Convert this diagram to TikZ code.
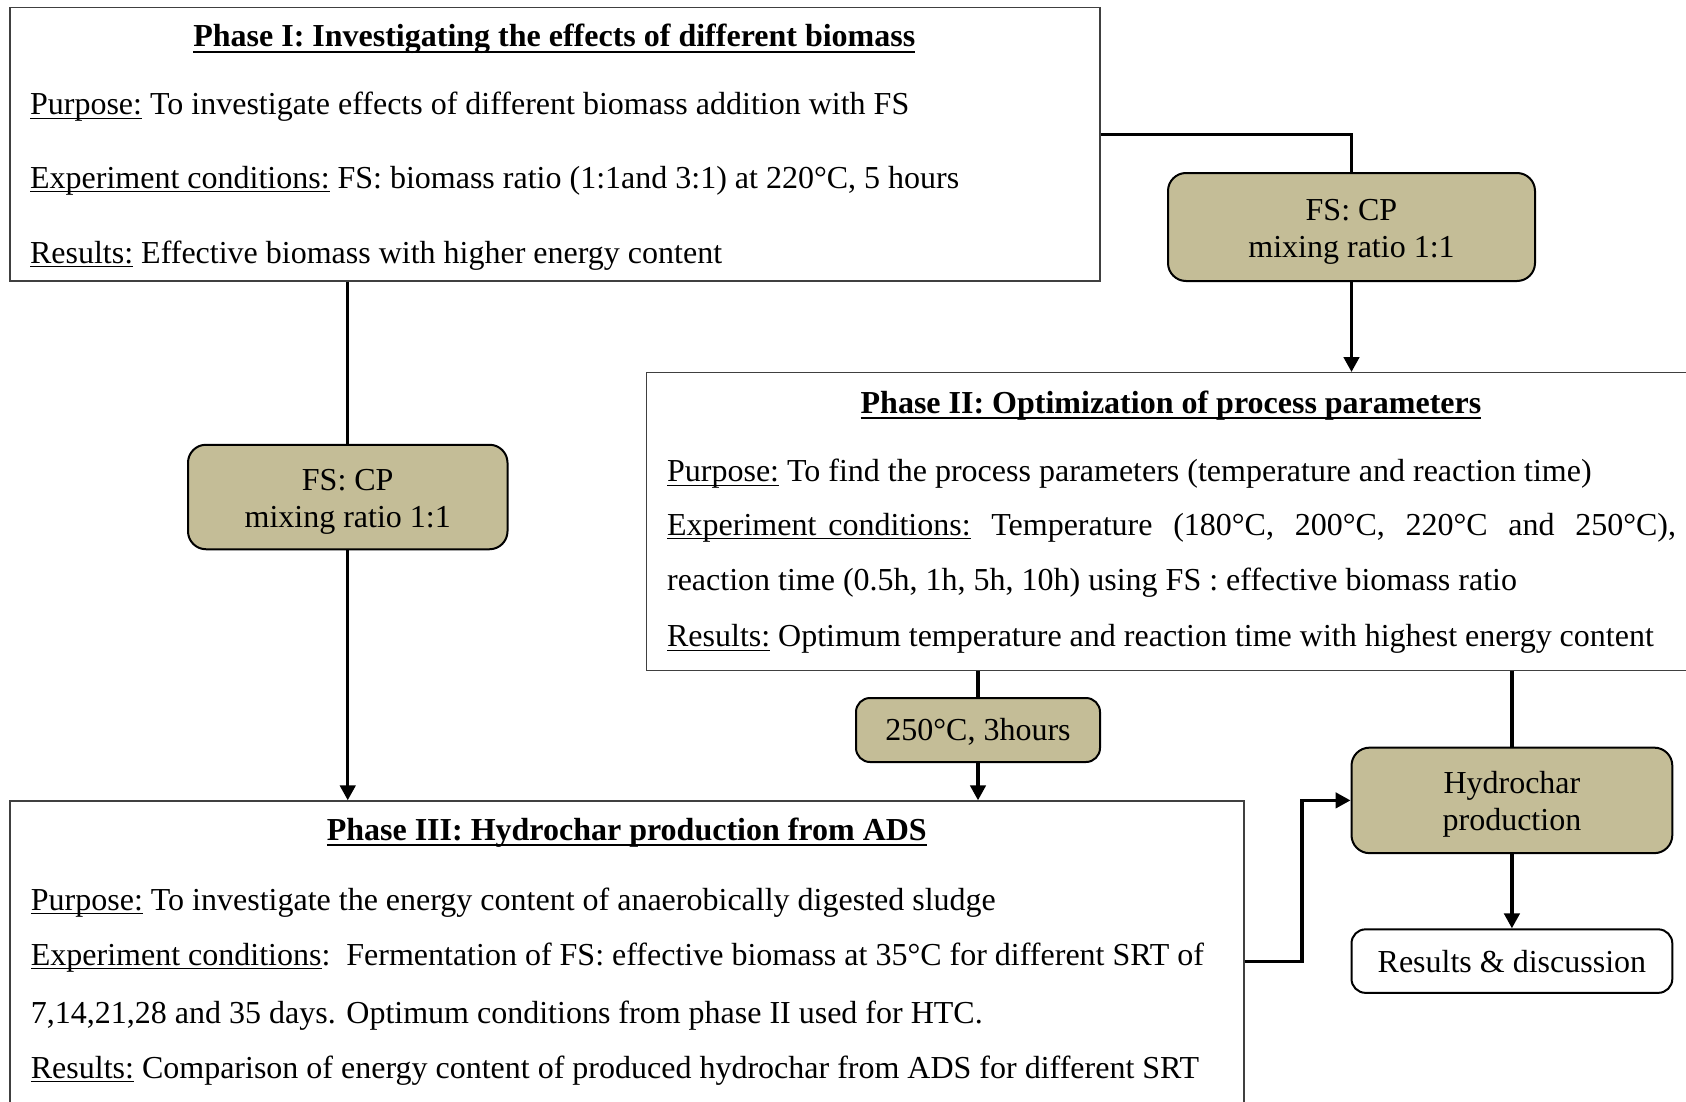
\documentclass[tikz,border=0pt]{standalone}
\usepackage{fontspec}
\setmainfont{Liberation Serif}
\usetikzlibrary{arrows.meta}
\definecolor{tanfill}{HTML}{C4BD97}
\newsavebox\ulbox
\newcommand\myul[1]{\sbox\ulbox{#1}\rlap{\rule[-2.2pt]{\wd\ulbox}{0.6pt}}\usebox\ulbox}
\newcommand\myult[1]{\sbox\ulbox{#1}\rlap{\rule[-3.2pt]{\wd\ulbox}{1.3pt}}\usebox\ulbox}
\begin{document}
\begin{tikzpicture}[x=0.5pt,y=-0.5pt,
  phase/.style={draw=black!75,line width=0.7pt,inner sep=0,fill=white},
  tanbox/.style={draw,line width=1pt,fill=tanfill,rounded corners=9pt,inner sep=0,align=center,font=\fontsize{16}{18.5}\selectfont},
  whitebox/.style={draw,line width=1pt,fill=white,rounded corners=7pt,inner sep=0,align=center,font=\fontsize{16}{18.5}\selectfont},
  txt/.style={anchor=base west,inner sep=0,font=\fontsize{16}{19}\selectfont},
  ttl/.style={anchor=base,inner sep=0,font=\fontsize{16}{19}\selectfont\bfseries},
  conn/.style={line width=1.7pt},
  arr/.style={conn,-{Triangle[length=7.5pt,width=7.7pt]}}]
\useasboundingbox (0,0) rectangle (1686,1102);
% boxes
\node[phase,minimum width=545pt,minimum height=136.75pt] (p1) at (555,144.25) {};
\node[tanbox,minimum width=183.5pt,minimum height=54pt] (cp1) at (1351.5,227) {\rule{0pt}{15pt}FS: CP\\mixing ratio 1:1};
\node[phase,minimum width=526.65pt,minimum height=149pt] (p2) at (1173.35,521.7) {};
\node[tanbox,minimum width=159.75pt,minimum height=52.25pt] (cp2) at (347.75,497) {\rule{0pt}{15pt}FS: CP\\mixing ratio 1:1};
\node[tanbox,minimum width=122pt,minimum height=32pt,rounded corners=7pt] (t250) at (978,730) {\rule{0pt}{13pt}250°C, 3hours};
\node[phase,minimum width=617pt,minimum height=154.5pt] (p3) at (627,955.5) {};
\node[tanbox,minimum width=160.4pt,minimum height=52.75pt] (hc) at (1511.9,800.4) {\rule{0pt}{15pt}Hydrochar\\production};
\node[whitebox,minimum width=160.4pt,minimum height=31.75pt] (rd) at (1511.9,961.1) {Results \& discussion};
% phase I text
\node[ttl] (p1t) at (554.3,47) {\myult{Phase I: Investigating the effects of different biomass}};
\node[txt] (p1a) at (29.7,115) {\myul{Purpose:} To investigate effects of different biomass addition with FS};
\node[txt] (p1b) at (29.7,188) {\myul{Experiment conditions:} FS: biomass ratio (1:1and 3:1) at 220°C, 5 hours};
\node[txt] (p1c) at (29.7,263) {\myul{Results:} Effective biomass with higher energy content};
% phase II text
\node[ttl] (p2t) at (1171,413) {\myult{Phase II: Optimization of process parameters}};
\node[txt] (p2a) at (666.7,481.5) {\myul{Purpose:} To find the process parameters (temperature and reaction time)};
\node[txt] (p2b) at (666.7,535) {\makebox[504.5pt][s]{\myul{Experiment\hspace{6pt}conditions:} Temperature (180°C, 200°C, 220°C and 250°C),}};
\node[txt] (p2c) at (666.7,590) {reaction time (0.5h, 1h, 5h, 10h) using FS : effective biomass ratio};
\node[txt] (p2d) at (666.7,646.5) {\myul{Results:} Optimum temperature and reaction time with highest energy content};
% phase III text
\node[ttl] (p3t) at (626.8,840) {\myult{Phase III: Hydrochar production from ADS}};
\node[txt] (p3a) at (30.5,910) {\myul{Purpose:} To investigate the energy content of anaerobically digested sludge};
\node[txt] (p3b) at (30.5,965) {\myul{Experiment conditions}:\ \ Fermentation of FS: effective biomass at 35°C for different SRT of};
\node[txt] (p3c) at (30.5,1023) {7,14,21,28 and 35 days. Optimum conditions from phase II used for HTC.};
\node[txt] (p3d) at (30.5,1078) {\myul{Results:} Comparison of energy content of produced hydrochar from ADS for different SRT};
% connectors
\coordinate (k1) at (1351.5,134.4);
\coordinate (k2) at (1302,961.5);
\draw[conn] (p1.east |- k1) -| (cp1.north);
\draw[arr] (cp1.south) -- (cp1.south |- p2.north);
\draw[conn] (cp2.north |- p1.south) -- (cp2.north);
\draw[arr] (cp2.south) -- (cp2.south |- p3.north);
\draw[conn] (t250.north |- p2.south) -- (t250.north);
\draw[arr] (t250.south) -- (t250.south |- p3.north);
\draw[conn] (hc.north |- p2.south) -- (hc.north);
\draw[arr] (hc.south) -- (rd.north);
\draw[arr] (p3.east |- k2) -- (k2) |- (hc.west);
\end{tikzpicture}
\end{document}
